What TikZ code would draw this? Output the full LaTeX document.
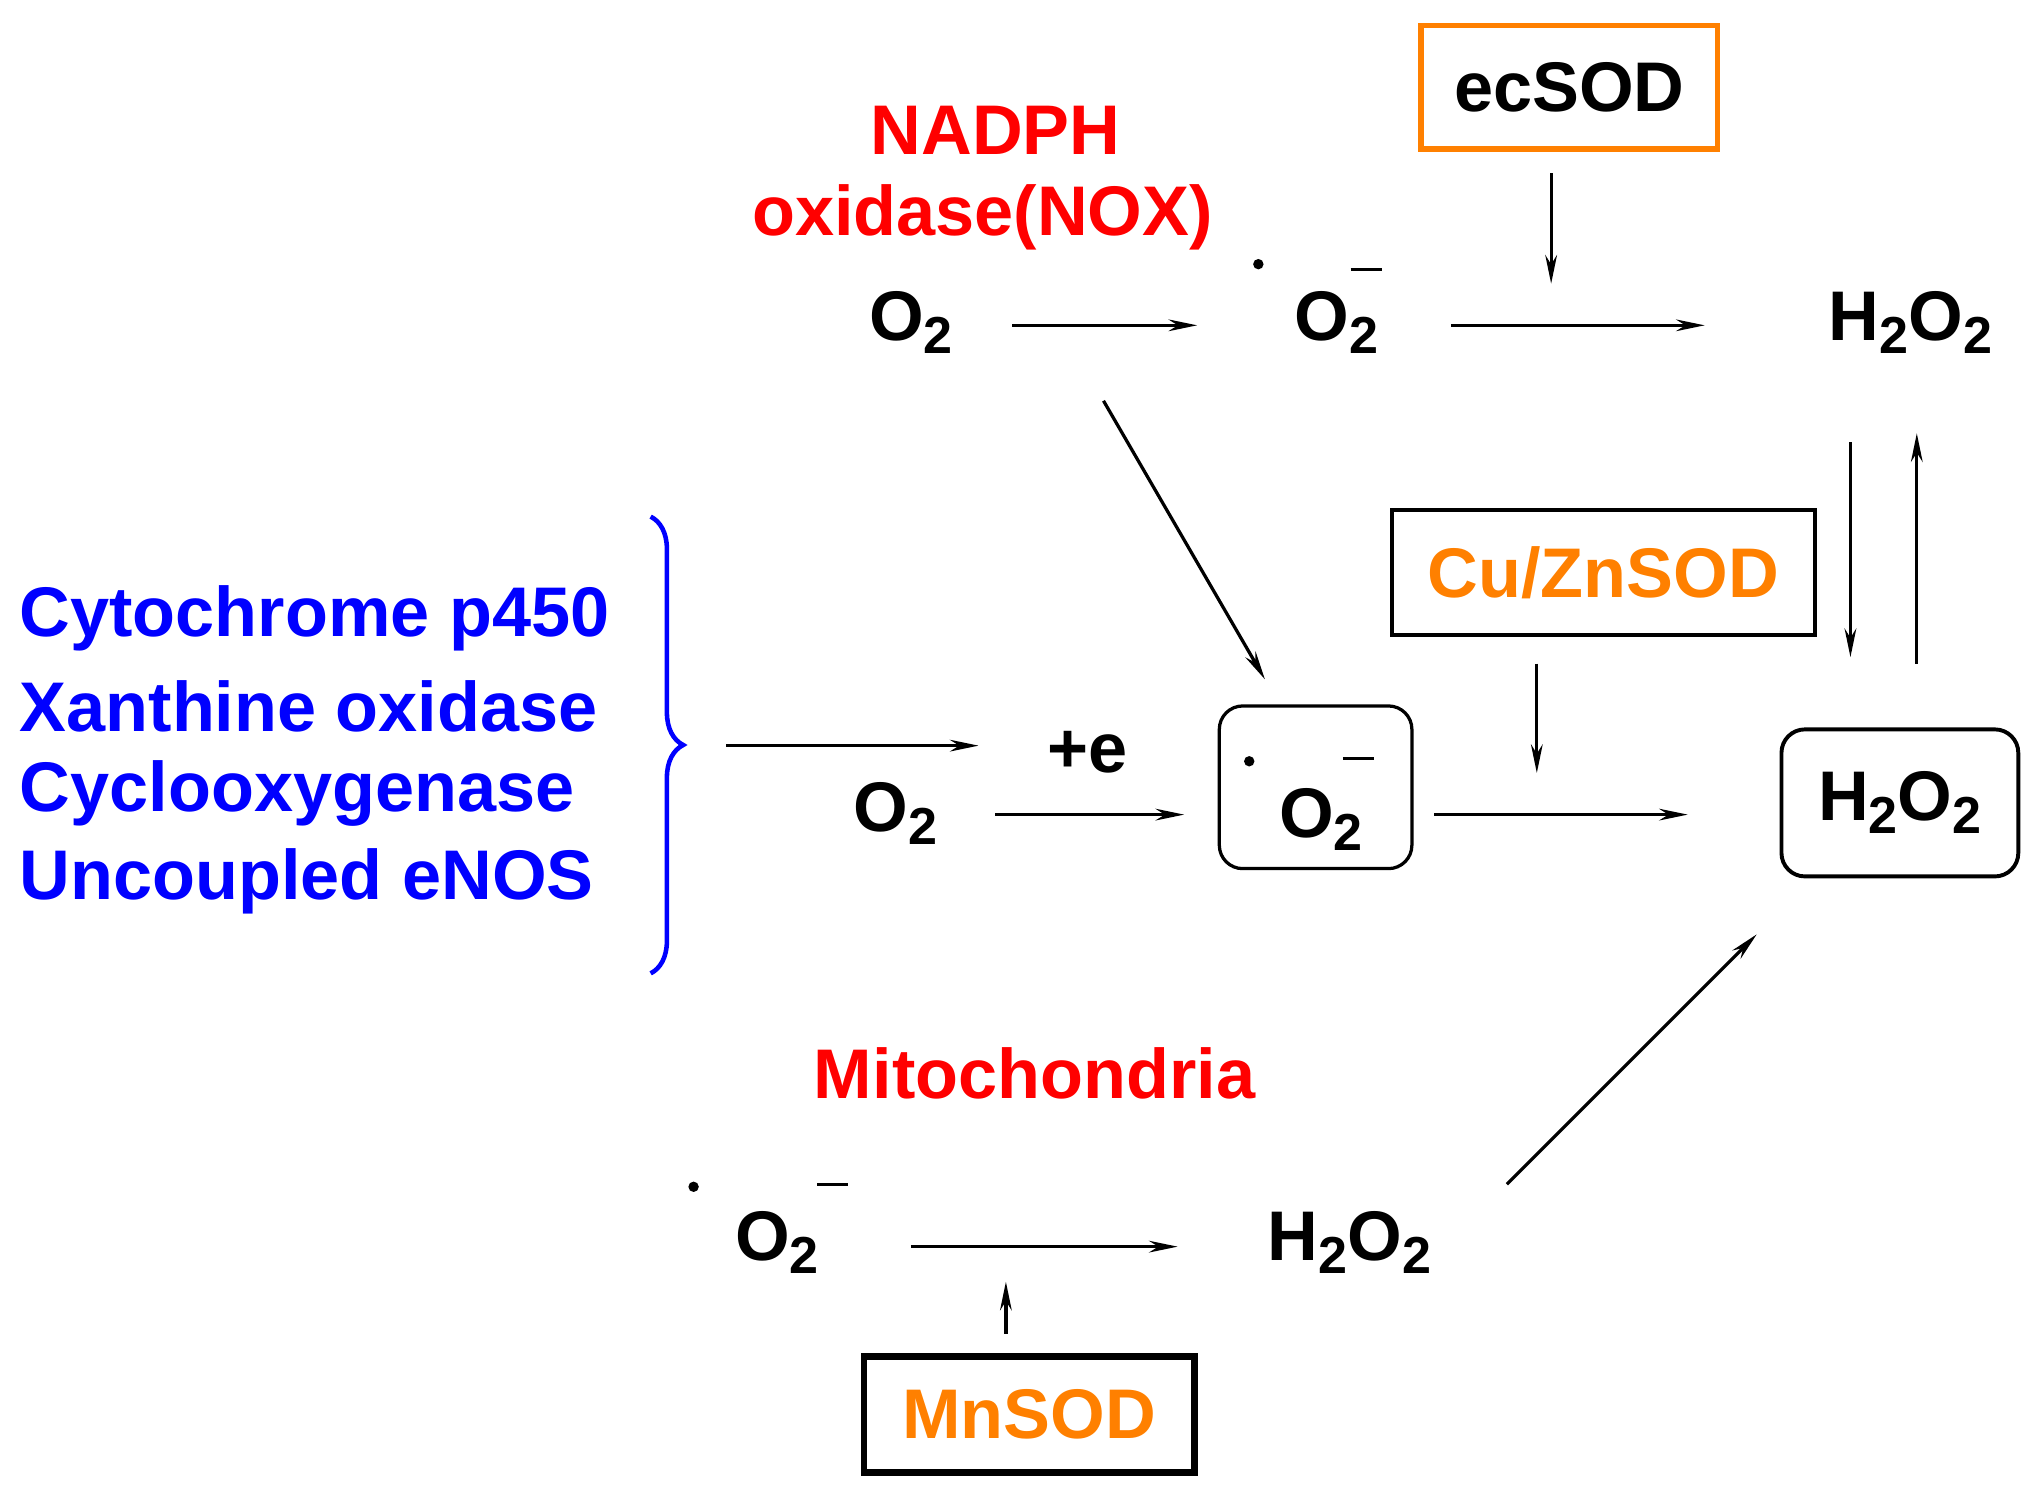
\documentclass[tikz,border=0pt]{standalone}
\usepackage{fontspec}
\setmainfont{Liberation Sans}
\usetikzlibrary{arrows.meta,decorations.pathreplacing}
\definecolor{myorange}{RGB}{255,128,0}
\newcommand{\stwo}{\raisebox{-0.35ex}{\fontsize{40}{40}\selectfont 2}}
\begin{document}
\begin{tikzpicture}[x=1pt,y=-1pt,
  t/.style={font=\fontsize{54}{60}\selectfont\bfseries, inner sep=0pt},
  arr/.style={line width=2.5pt,-{Stealth[length=22pt,width=9pt]}},
  dot/.style={circle,fill=black,inner sep=0pt,minimum size=8pt},
  mn/.style={line width=2.5pt}]
\useasboundingbox (0,0) rectangle (1560,1146);
% top
\node[t,red] (nadph) at (765,100) {NADPH};
\node[t,red] (nox) at (755,167) {oxidase(NOX)};
\node[draw=myorange,line width=4pt,minimum width=228pt,minimum height=95pt,t] (ec) at (1206,67) {ecSOD};
\node[t] (o2a) at (700,248) {O\stwo};
\node[dot] (da) at (967,203) {};
\node[t] (o2b) at (1027,248) {O\stwo};
\coordinate (ma1) at (1038,207); \coordinate (ma2) at (1062,207);
\draw[mn] (ma1) -- (ma2);
\node[t] (h2a) at (1468,248) {H\stwo O\stwo};
\coordinate (a1s) at (778,250); \coordinate (a1e) at (920,250);
\draw[arr] (a1s) -- (a1e);
\coordinate (a2s) at (1115,250); \coordinate (a2e) at (1310,250);
\draw[arr] (a2s) -- (a2e);
\coordinate (ecs) at (1192,133); \coordinate (ece) at (1192,218);
\draw[arr] (ecs) -- (ece);
% middle
\node[t,blue,anchor=west] (c1) at (15,475) {Cytochrome p450};
\node[t,blue,anchor=west] (c2) at (15,543) {Xanthine oxidase};
\node[t,blue,anchor=west] (c3) at (15,610) {Cyclooxygenase};
\node[t,blue,anchor=west] (c4) at (15,677) {Uncoupled eNOS};
\coordinate (b1) at (500,397); \coordinate (b2) at (500,748);
\draw[blue,line width=3.5pt,decorate,decoration={brace,amplitude=25pt}] (b1) -- (b2);
\coordinate (bs) at (558,573); \coordinate (be) at (752,573);
\draw[arr] (bs) -- (be);
\node[t] (pe) at (836,578) {+e};
\node[t] (o2c) at (688,625) {O\stwo};
\coordinate (a3s) at (765,626); \coordinate (a3e) at (910,626);
\draw[arr] (a3s) -- (a3e);
\node[draw,rounded corners=18pt,line width=2.5pt,minimum width=148pt,minimum height=125pt] (box1) at (1011,605) {};
\node[dot] (db) at (960,585) {};
\node[t] (o2d) at (1015,630) {O\stwo};
\coordinate (mb1) at (1032,583); \coordinate (mb2) at (1056,583);
\draw[mn] (mb1) -- (mb2);
\coordinate (ds) at (848,308); \coordinate (de) at (972,522);
\draw[arr] (ds) -- (de);
\node[draw,line width=3pt,minimum width=325pt,minimum height=96pt,t,text=myorange,anchor=east] (cu) at (1396,440) {Cu/ZnSOD};
\coordinate (cus) at (1181,510); \coordinate (cue) at (1181,594);
\draw[arr] (cus) -- (cue);
\coordinate (a4s) at (1102,626); \coordinate (a4e) at (1297,626);
\draw[arr] (a4s) -- (a4e);
\node[draw,rounded corners=18pt,line width=3pt,minimum width=182pt,minimum height=113pt,t] (h2b) at (1460,617) {H\stwo O\stwo};
\coordinate (v1s) at (1422,340); \coordinate (v1e) at (1422,505);
\draw[arr] (v1s) -- (v1e);
\coordinate (v2s) at (1473,510); \coordinate (v2e) at (1473,333);
\draw[arr] (v2s) -- (v2e);
% bottom
\node[t,red] (mito) at (795,825) {Mitochondria};
\node[dot] (dc) at (533,912) {};
\node[t] (o2e) at (597,955) {O\stwo};
\coordinate (mc1) at (628,910); \coordinate (mc2) at (652,910);
\draw[mn] (mc1) -- (mc2);
\coordinate (a5s) at (700,958); \coordinate (a5e) at (905,958);
\draw[arr] (a5s) -- (a5e);
\node[t] (h2c) at (1037,955) {H\stwo O\stwo};
\coordinate (a6s) at (1158,910); \coordinate (a6e) at (1350,718);
\draw[arr] (a6s) -- (a6e);
\node[draw,line width=5pt,minimum width=254pt,minimum height=89pt,t,text=myorange] (mnsod) at (791,1087) {MnSOD};
\coordinate (mns) at (773,1025); \coordinate (mne) at (773,985);
\draw[arr] (mns) -- (mne);
\end{tikzpicture}
\end{document}
